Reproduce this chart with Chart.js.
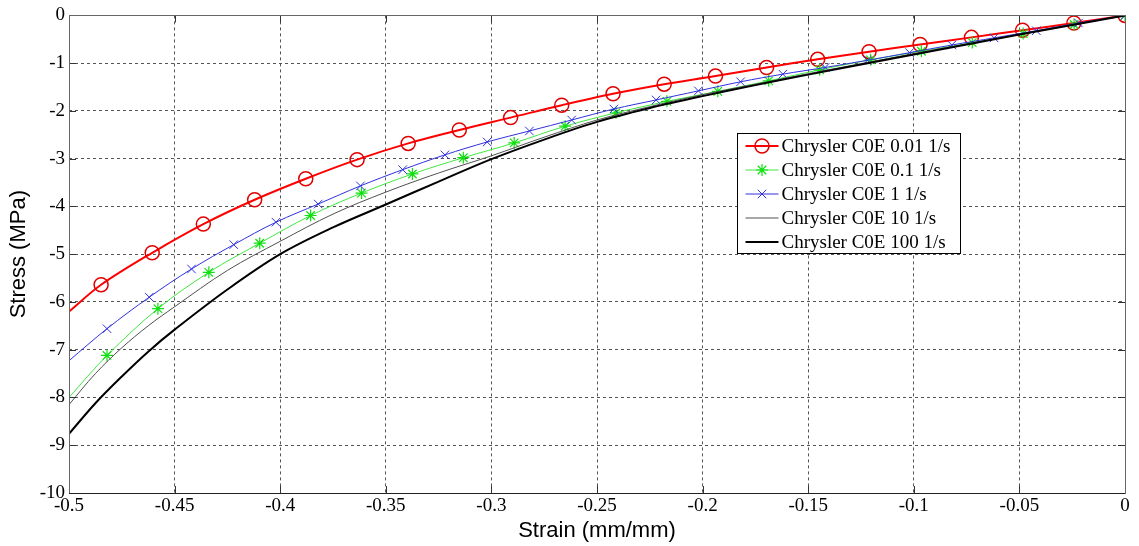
<!DOCTYPE html>
<html>
<head>
<meta charset="utf-8">
<script src="https://cdn.jsdelivr.net/npm/chart.js@4.4.1/dist/chart.umd.min.js"></script>
<style>
  html, body { margin: 0; padding: 0; background: #fff; }
</style>
</head>
<body>
<canvas id="stressChart" width="1139" height="546"></canvas>
<script>
const strainTicks = ["-0.5", "-0.45", "-0.4", "-0.35", "-0.3", "-0.25", "-0.2", "-0.15", "-0.1", "-0.05", "0"];
const stressTicks = ["-10", "-9", "-8", "-7", "-6", "-5", "-4", "-3", "-2", "-1", "0"];

const seriesLabels = [
  "Chrysler C0E 0.01 1/s",
  "Chrysler C0E 0.1 1/s",
  "Chrysler C0E 1 1/s",
  "Chrysler C0E 10 1/s",
  "Chrysler C0E 100 1/s",
];

// 0.01 1/s (first point is the curve start, no marker)
const strain001 = [-0.5, -0.4848, -0.4606, -0.4364, -0.4121, -0.3879, -0.3636, -0.3394, -0.3152, -0.2909, -0.2667,
  -0.2424, -0.2182, -0.1939, -0.1697, -0.1455, -0.1212, -0.0970, -0.0727, -0.0485, -0.0242, 0];
const stress001 = [-6.20, -5.64, -4.97, -4.37, -3.86, -3.42, -3.02, -2.68, -2.40, -2.14, -1.88,
  -1.64, -1.44, -1.27, -1.09, -0.92, -0.76, -0.61, -0.46, -0.31, -0.16, 0];

// 0.1 1/s
const strain01 = [-0.5, -0.482, -0.4579, -0.4338, -0.4097, -0.3856, -0.3615, -0.3374, -0.3133, -0.2892, -0.2651,
  -0.241, -0.2169, -0.1928, -0.1687, -0.1446, -0.1205, -0.0964, -0.0723, -0.0482, -0.0241, 0];
const stress01 = [-8.00, -7.12, -6.14, -5.38, -4.77, -4.19, -3.72, -3.32, -2.98, -2.67, -2.32,
  -2.04, -1.80, -1.59, -1.37, -1.14, -0.93, -0.75, -0.57, -0.38, -0.19, 0];

// 1 1/s
const strain1 = [-0.5, -0.482, -0.462, -0.442, -0.422, -0.402, -0.382, -0.362, -0.342, -0.322, -0.302, -0.282, -0.262,
  -0.242, -0.222, -0.202, -0.182, -0.162, -0.142, -0.122, -0.102, -0.082, -0.062, -0.042, -0.022, 0];
const stress1 = [-7.23, -6.56, -5.90, -5.31, -4.80, -4.33, -3.95, -3.57, -3.23, -2.92, -2.65, -2.42, -2.19,
  -1.96, -1.77, -1.58, -1.39, -1.23, -1.09, -0.94, -0.78, -0.62, -0.47, -0.32, -0.16, 0];

// 10 1/s and 100 1/s (no markers)
const strainPlain = [-0.5, -0.4875, -0.475, -0.4625, -0.45, -0.425, -0.4, -0.375, -0.35, -0.325, -0.3, -0.275, -0.25,
  -0.225, -0.2, -0.175, -0.15, -0.125, -0.1, -0.075, -0.05, -0.025, 0];
const stress10 = [-8.15, -7.50, -6.96, -6.50, -6.10, -5.34, -4.73, -4.16, -3.70, -3.30, -2.94, -2.55, -2.19,
  -1.91, -1.66, -1.44, -1.22, -1.01, -0.80, -0.60, -0.40, -0.20, 0];
const stress100 = [-8.76, -8.12, -7.56, -7.04, -6.58, -5.74, -5.00, -4.44, -3.96, -3.48, -3.01, -2.60, -2.23,
  -1.94, -1.69, -1.46, -1.24, -1.03, -0.82, -0.61, -0.40, -0.20, 0];

const toPoints = (xs, ys) => xs.map((x, i) => ({ x, y: ys[i] }));
const skipFirst = (r) => (ctx) => (ctx.dataIndex === 0 ? 0 : r);

const SERIF = "'Liberation Serif', 'Times New Roman', serif";
const SANS = "'Liberation Sans', Arial, sans-serif";

const datasets = [
  {
    label: seriesLabels[0], data: toPoints(strain001, stress001),
    borderColor: "#ff0000", borderWidth: 2, order: 4,
    pointStyle: "circle", pointRadius: skipFirst(7), pointBorderWidth: 1.5,
    pointBorderColor: "#e00000", pointBackgroundColor: "rgba(0,0,0,0)",
  },
  {
    label: seriesLabels[1], data: toPoints(strain01, stress01),
    borderColor: "#3ee83e", borderWidth: 1, order: 3,
    pointStyle: "star", pointRadius: skipFirst(6), pointBorderWidth: 1.2,
    pointBorderColor: "#10e010", pointBackgroundColor: "rgba(0,0,0,0)",
  },
  {
    label: seriesLabels[2], data: toPoints(strain1, stress1),
    borderColor: "#3030e0", borderWidth: 1, order: 2,
    pointStyle: "crossRot", pointRadius: skipFirst(6), pointBorderWidth: 1,
    pointBorderColor: "#3030e0", pointBackgroundColor: "rgba(0,0,0,0)",
  },
  {
    label: seriesLabels[3], data: toPoints(strainPlain, stress10),
    borderColor: "#505050", borderWidth: 1, order: 1, pointRadius: 0,
  },
  {
    label: seriesLabels[4], data: toPoints(strainPlain, stress100),
    borderColor: "#000000", borderWidth: 2, order: 0, pointRadius: 0,
  },
];

function drawMarker(ctx, style, x, y, r) {
  ctx.beginPath();
  if (style === "circle") {
    ctx.arc(x, y, r, 0, Math.PI * 2);
  } else if (style === "star" || style === "crossRot") {
    const d = r * Math.SQRT1_2;
    ctx.moveTo(x - d, y - d); ctx.lineTo(x + d, y + d);
    ctx.moveTo(x - d, y + d); ctx.lineTo(x + d, y - d);
    if (style === "star") {
      ctx.moveTo(x - r, y); ctx.lineTo(x + r, y);
      ctx.moveTo(x, y - r); ctx.lineTo(x, y + r);
    }
  }
  ctx.stroke();
}

// MATLAB-like box, inward ticks and legend inside the axes
const matlabFrame = {
  id: "matlabFrame",
  afterDatasetsDraw(chart) {
    const { ctx, chartArea: a, scales } = chart;
    ctx.save();
    ctx.lineWidth = 1;
    ctx.strokeStyle = "#333";
    ctx.setLineDash([]);
    const tl = 7;
    scales.x.ticks.forEach((t) => {
      const px = Math.round(scales.x.getPixelForValue(t.value)) + 0.5;
      ctx.beginPath();
      ctx.moveTo(px, a.bottom); ctx.lineTo(px, a.bottom - tl);
      ctx.moveTo(px, a.top); ctx.lineTo(px, a.top + tl);
      ctx.stroke();
    });
    scales.y.ticks.forEach((t) => {
      const py = Math.round(scales.y.getPixelForValue(t.value)) + 0.5;
      ctx.beginPath();
      ctx.moveTo(a.left, py); ctx.lineTo(a.left + tl, py);
      ctx.moveTo(a.right, py); ctx.lineTo(a.right - tl, py);
      ctx.stroke();
    });
    ctx.strokeStyle = "#666";
    ctx.strokeRect(Math.round(a.left) + 0.5, Math.round(a.top) + 0.5,
      Math.round(a.right - a.left), Math.round(a.bottom - a.top));
    ctx.strokeStyle = "#222";
    ctx.beginPath();
    ctx.moveTo(a.left, Math.round(a.bottom) + 0.5);
    ctx.lineTo(a.right, Math.round(a.bottom) + 0.5);
    ctx.stroke();

    // legend
    const box = { x: 737.5, y: 133.5, w: 223, h: 120 };
    ctx.fillStyle = "#fff";
    ctx.fillRect(box.x, box.y, box.w, box.h);
    ctx.strokeStyle = "#000";
    ctx.strokeRect(box.x, box.y, box.w, box.h);
    ctx.font = "19px " + SERIF;
    ctx.textBaseline = "middle";
    chart.data.datasets.forEach((ds, i) => {
      const y = box.y + 12.5 + i * 24;
      ctx.strokeStyle = ds.borderColor;
      ctx.lineWidth = ds.borderWidth;
      ctx.beginPath();
      ctx.moveTo(box.x + 8, y); ctx.lineTo(box.x + 41, y);
      ctx.stroke();
      if (ds.pointStyle) {
        ctx.strokeStyle = ds.pointBorderColor;
        ctx.lineWidth = ds.pointBorderWidth;
        drawMarker(ctx, ds.pointStyle, box.x + 24.5, y, ds.pointStyle === "circle" ? 7 : 6);
      }
      ctx.fillStyle = "#000";
      ctx.fillText(ds.label, box.x + 44, y + 1);
    });
    ctx.restore();
  },
};

new Chart(document.getElementById("stressChart"), {
  type: "line",
  data: { datasets },
  options: {
    responsive: false,
    animation: false,
    layout: { padding: { top: 14, right: 14, left: 0, bottom: 0 } },
    elements: { line: { tension: 0.35, fill: false } },
    plugins: { legend: { display: false }, tooltip: { enabled: false } },
    scales: {
      x: {
        type: "linear", min: -0.5, max: 0,
        ticks: {
          stepSize: 0.05, padding: 2, color: "#000",
          font: { family: SERIF, size: 19 },
          maxRotation: 0, autoSkip: false,
          callback: (v, i) => strainTicks[i],
        },
        grid: { color: "#555", lineWidth: 1, drawTicks: false },
        border: { display: false, dash: [3, 3] },
        title: {
          display: true, text: "Strain (mm/mm)", color: "#000",
          font: { family: SANS, size: 22 }, padding: { top: 0, bottom: 2 },
        },
        afterFit: (scale) => { scale.height = 53; },
      },
      y: {
        type: "linear", min: -10, max: 0,
        ticks: {
          stepSize: 1, padding: 4, color: "#000",
          font: { family: SERIF, size: 19 },
          callback: (v, i) => stressTicks[i],
        },
        grid: { color: "#555", lineWidth: 1, drawTicks: false },
        border: { display: false, dash: [3, 3] },
        title: {
          display: true, text: "Stress (MPa)", color: "#000",
          font: { family: SANS, size: 22 }, padding: { top: 6, bottom: 0 },
        },
        afterFit: (scale) => { scale.width = 69; },
      },
    },
  },
  plugins: [matlabFrame],
});
</script>
</body>
</html>
